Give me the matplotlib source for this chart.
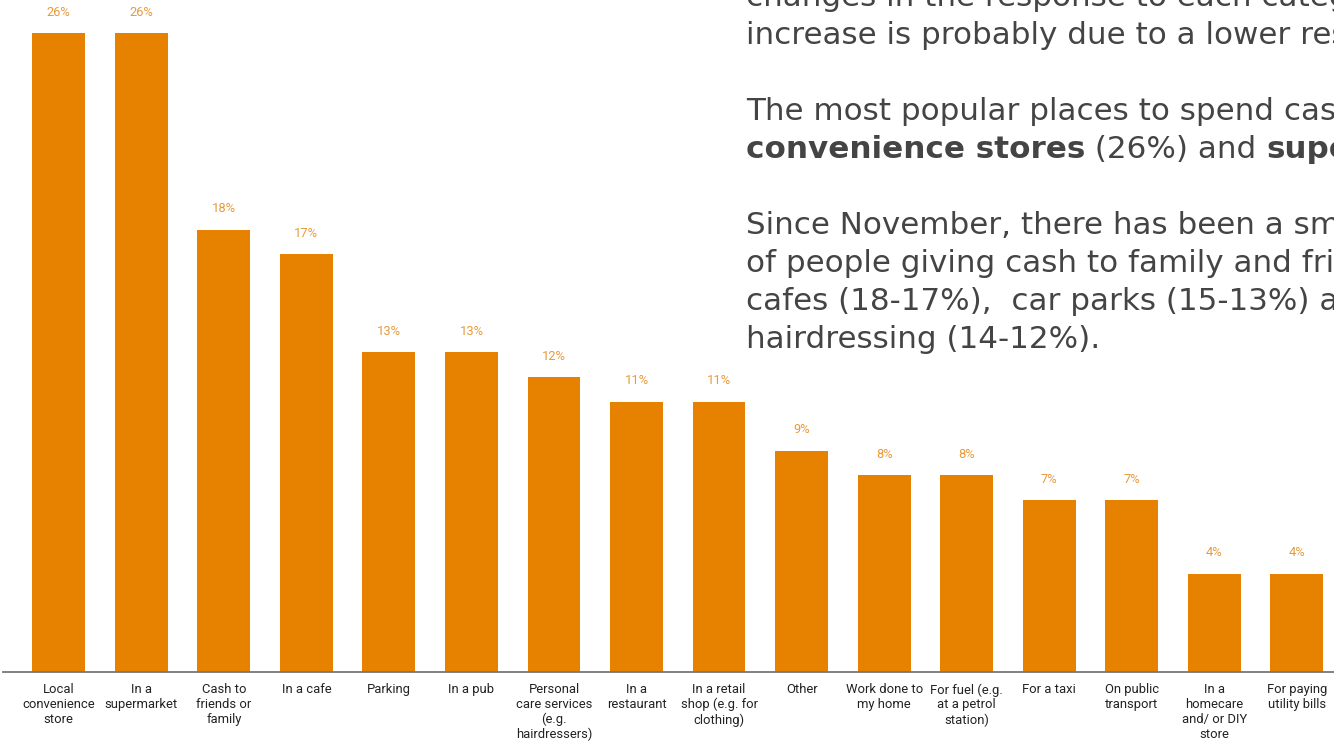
import matplotlib
matplotlib.use("Agg")
import matplotlib.pyplot as plt

categories = [
    "Local\nconvenience\nstore",
    "In a\nsupermarket",
    "Cash to\nfriends or\nfamily",
    "In a cafe",
    "Parking",
    "In a pub",
    "Personal\ncare services\n(e.g.\nhairdressers)",
    "In a\nrestaurant",
    "In a retail\nshop (e.g. for\nclothing)",
    "Other",
    "Work done to\nmy home",
    "For fuel (e.g.\nat a petrol\nstation)",
    "For a taxi",
    "On public\ntransport",
    "In a\nhomecare\nand/ or DIY\nstore",
    "For paying\nutility bills",
]
values = [26, 26, 18, 17, 13, 13, 12, 11, 11, 9, 8, 8, 7, 7, 4, 4]

BAR = "#E68200"
LABEL = "#E89A3C"
TEXT = "#444444"

W, H = 1334, 742
fig = plt.figure(figsize=(W / 100, H / 100), dpi=100)
fig.patch.set_facecolor("white")

# axes box in pixel coordinates: left edge 3, baseline at 672, top at 0
ax = fig.add_axes([3 / W, (H - 672) / H, (W - 3) / W, 672 / H])
x = list(range(len(values)))
ax.bar(x, values, width=0.64, color=BAR, zorder=2)
ax.set_xlim(-0.675, 15.45)
ax.set_ylim(0, 27.34)

for xi, v in zip(x, values):
    ax.annotate(f"{v}%", (xi, v), xytext=(0, 15), textcoords="offset points",
                ha="center", va="center", fontsize=9.3, color=LABEL,
                family="Roboto")

ax.set_xticks(x)
ax.set_xticklabels(categories, family="Roboto", fontsize=9.4, color="#222222",
                   linespacing=1.18, va="top")
ax.tick_params(axis="x", length=0, pad=8)
ax.set_yticks([])
for s in ["top", "right", "left"]:
    ax.spines[s].set_visible(False)
ax.spines["bottom"].set_color("#777777")
ax.spines["bottom"].set_linewidth(1.3)

# commentary block on the right, running past the figure edge
FONT = dict(family="DejaVu Sans", fontsize=22.3, color=TEXT, va="baseline")
x0 = 746
lines = [
    (6, [("changes in the response to each category since November. This", "normal")]),
    (44, [("increase is probably due to a lower response rate.", "normal")]),
    (120, [("The most popular places to spend cash are", "normal")]),
    (158, [("convenience stores", "bold"), (" (26%) and ", "normal"),
           ("supermarkets", "bold"), (" (26%).", "normal")]),
    (234, [("Since November, there has been a small decrease", "normal")]),
    (272, [("of people giving cash to family and friends (20-18%),", "normal")]),
    (310, [("cafes (18-17%),  car parks (15-13%) and the", "normal")]),
    (348, [("hairdressing (14-12%).", "normal")]),
]
renderer = fig.canvas.get_renderer()
for ybase, parts in lines:
    xpos = x0
    for txt, wt in parts:
        t = fig.text(xpos / W, 1 - ybase / H, txt, fontweight=wt, **FONT)
        xpos += t.get_window_extent(renderer=renderer).width

fig.savefig("out.png", dpi=100)
